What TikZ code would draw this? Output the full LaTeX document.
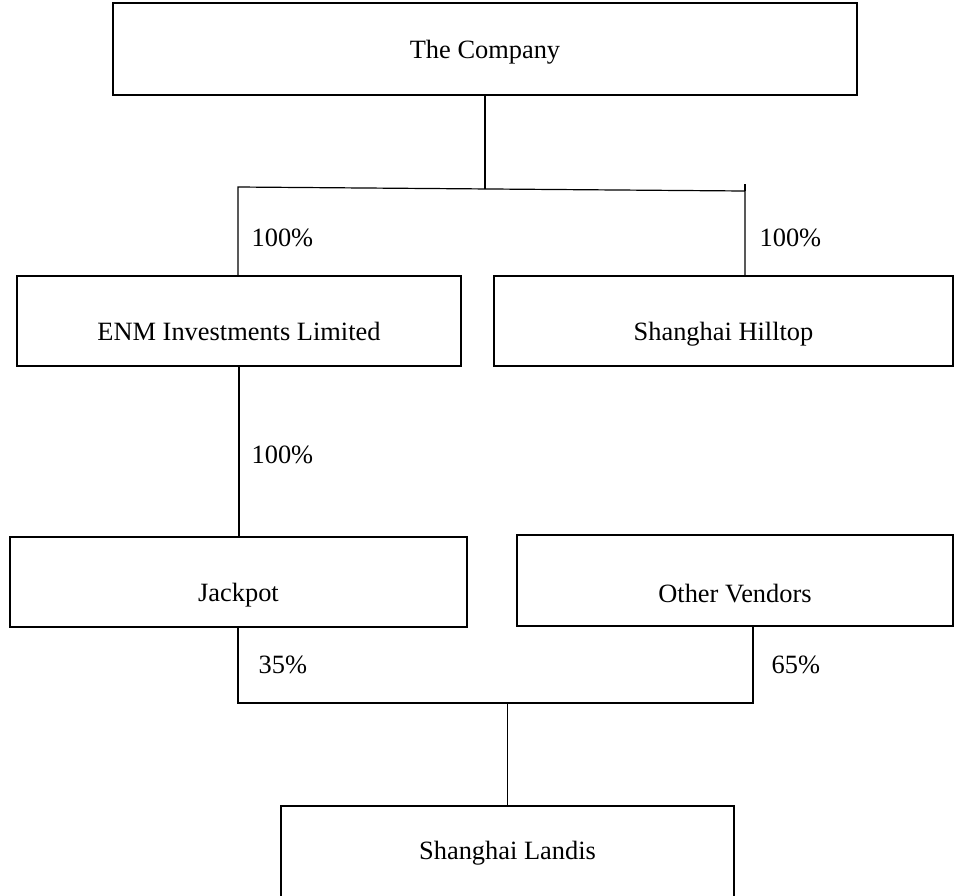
\documentclass[tikz,border=0pt]{standalone}
\usepackage{fontspec}
\setmainfont{Liberation Serif}
\usetikzlibrary{calc}

\begin{document}
\begin{tikzpicture}[x=0.5pt, y=-0.5pt, line width=0.6pt,
    font=\fontsize{13.2}{16}\selectfont,
    box/.style={shape=rectangle, draw=black, inner sep=0pt, text height=19pt, text depth=0pt},
    pct/.style={anchor=west, inner sep=0pt}]
    \useasboundingbox (0,0) rectangle (963,895);

    \node[box, minimum width=372pt, minimum height=46pt, text height=11pt, text depth=2pt] (comp) at (485,49) {The Company};
    \node[box, minimum width=222pt, minimum height=45pt] (enm) at (239,321) {ENM Investments Limited};
    \node[box, minimum width=229.5pt, minimum height=45pt] (hill) at (723.5,321) {Shanghai Hilltop};
    \node[box, minimum width=228.5pt, minimum height=45pt] (jack) at (238.5,582) {Jackpot};
    \node[box, minimum width=218pt, minimum height=45.5pt, text height=22pt] (vend) at (735,580.5) {Other Vendors};
    \node[box, minimum width=226.5pt, minimum height=52pt, text height=10pt, text depth=9pt] (landis) at (507.5,858) {Shanghai Landis};

    % upper split
    \coordinate (busT) at (485,189);
    \coordinate (busL) at (238,187);
    \coordinate (busR) at (745,191);
    \draw (comp.south) -- (busT);
    \draw (busL |- enm.north) -- (busL) -- (busR) -- (busR |- hill.north);
    \draw (busR) -- ++(0,-7);
    \node[pct] (pctE) at (251,238) {100\%};
    \node[pct] (pctH) at (759,238) {100\%};

    \draw (enm.south) -- (enm.south |- jack.north);
    \node[pct] (pctJ) at (251,455) {100\%};

    % lower join
    \coordinate (busJ) at (238,703);
    \coordinate (busV) at (753,703);
    \draw (busJ |- jack.south) -- (busJ) -- (busV) -- (busV |- vend.south);
    \draw (landis.north) -- (landis.north |- busJ);
    \node[pct] (pctL) at (258,665) {35\%};
    \node[pct] (pctV) at (771,665) {65\%};
\end{tikzpicture}
\end{document}
